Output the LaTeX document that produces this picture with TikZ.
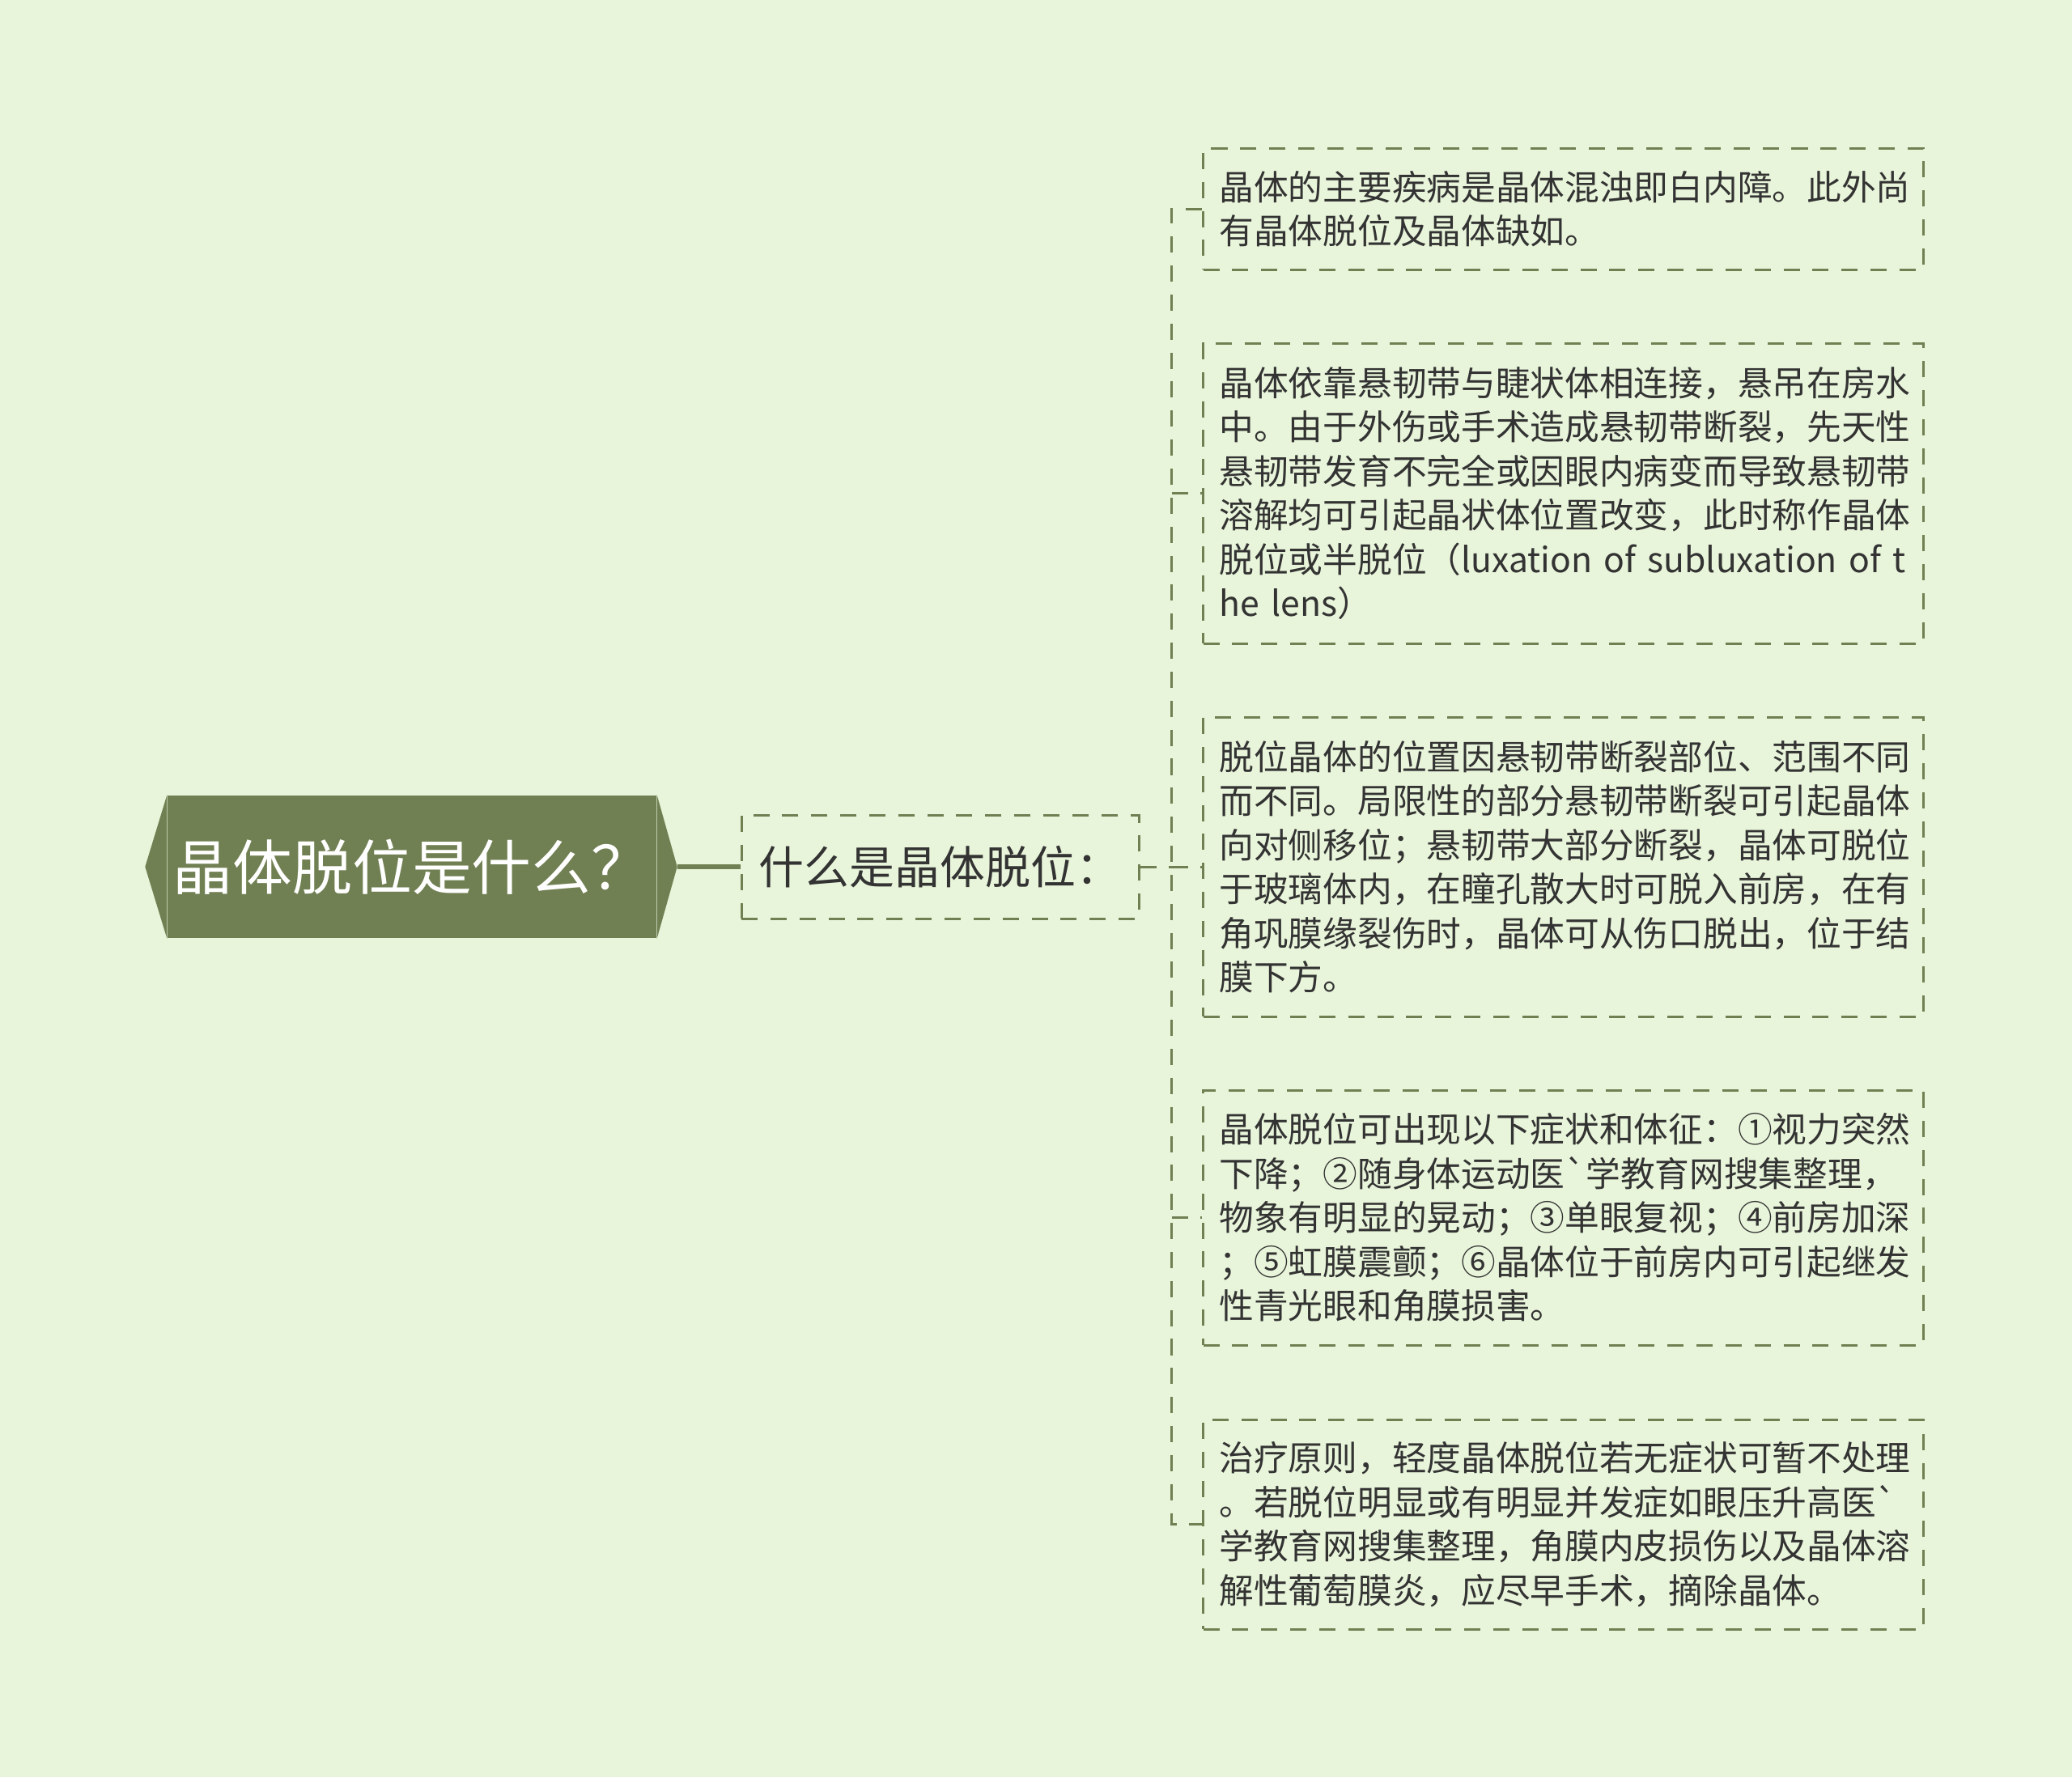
\documentclass[tikz,border=0pt]{standalone}
\usepackage{fontspec}
\newfontfamily\cjk{Noto Sans CJK SC}
\definecolor{bggreen}{RGB}{232, 245, 218}
\definecolor{mapgreen}{RGB}{113, 128, 83}
\definecolor{inkgray}{RGB}{51, 51, 51}
\usetikzlibrary{calc}

\begin{document}
\begin{tikzpicture}[
  rootbox/.style={fill=mapgreen, text=white, minimum width=6.04cm, minimum height=1.76cm, inner sep=0pt, font=\cjk\fontsize{21}{25}\selectfont},
  subbox/.style={draw=mapgreen, line width=0.85pt, dash pattern=on 5.7pt off 4.5pt, minimum width=4.91cm, minimum height=1.28cm, text=inkgray, font=\cjk\fontsize{15.9}{19}\selectfont},
  leafbox/.style={draw=mapgreen, line width=0.85pt, dash pattern=on 5.7pt off 4.5pt, text width=8.5cm, inner xsep=0.2cm, inner ysep=0.1cm, align=left, text=inkgray, font=\cjk\fontsize{12.15}{15.5}\selectfont},
  link/.style={draw=mapgreen, line width=0.85pt, dash pattern=on 5.7pt off 4.5pt},
  stem/.style={draw=mapgreen, line width=1.7pt},
]
  % background
  \fill[bggreen] (0, 0) rectangle (25.6, -21.96);
  \useasboundingbox (0, 0) rectangle (25.6, -21.96);

  % root
  \node[rootbox] (root) at (5.09, -10.71) {晶体脱位是什么？};
  \fill[mapgreen] (root.north east) -- ($(root.east)+(0.25,0)$) -- (root.south east) -- cycle;
  \fill[mapgreen] (root.north west) -- ($(root.west)+(-0.27,0)$) -- (root.south west) -- cycle;
  \coordinate (roottip) at ($(root.east)+(0.25,0)$);

  % sub topic
  \node[subbox] (sub) at (11.615, -10.71) {什么是晶体脱位：};
  \draw[stem] (roottip) -- (sub.west);

  % leaves
  \node[leafbox, minimum height=1.50cm] (leaf1) at (19.315, -2.58) {
    晶体的主要疾病是晶体混浊即白内障。此外尚\\有晶体脱位及晶体缺如。
  };
  \node[leafbox, minimum height=3.71cm] (leaf2) at (19.315, -6.095) {
    晶体依靠悬韧带与睫状体相连接，悬吊在房水\\
    中。由于外伤或手术造成悬韧带断裂，先天性\\
    悬韧带发育不完全或因眼内病变而导致悬韧带\\
    溶解均可引起晶状体位置改变，此时称作晶体\\
    脱位或半脱位（luxation~of~subluxation~of~t\\
    he lens）
  };
  \node[leafbox, minimum height=3.70cm] (leaf3) at (19.315, -10.71) {
    脱位晶体的位置因悬韧带断裂部位、范围不同\\
    而不同。局限性的部分悬韧带断裂可引起晶体\\
    向对侧移位；悬韧带大部分断裂，晶体可脱位\\
    于玻璃体内，在瞳孔散大时可脱入前房，在有\\
    角巩膜缘裂伤时，晶体可从伤口脱出，位于结\\
    膜下方。
  };
  \node[leafbox, minimum height=3.15cm] (leaf4) at (19.315, -15.045) {
    晶体脱位可出现以下症状和体征：①视力突然\\
    下降；②随身体运动医`学教育网搜集整理，\\
    物象有明显的晃动；③单眼复视；④前房加深\\
    ；⑤虹膜震颤；⑥晶体位于前房内可引起继发\\
    性青光眼和角膜损害。
  };
  \node[leafbox, minimum height=2.59cm] (leaf5) at (19.315, -18.835) {
    治疗原则，轻度晶体脱位若无症状可暂不处理\\
    。若脱位明显或有明显并发症如眼压升高医`\\
    学教育网搜集整理，角膜内皮损伤以及晶体溶\\
    解性葡萄膜炎，应尽早手术，摘除晶体。
  };

  % connectors
  \coordinate (fork) at ($(sub.east)+(0.39,0)$);
  \draw[link] (sub.east) -- (fork);
  \draw[link] (leaf1.west) -| (fork) |- (leaf5.west);
  \foreach \i in {2,3,4} {
    \draw[link] (fork |- leaf\i.west) -- (leaf\i.west);
  }
\end{tikzpicture}
\end{document}
